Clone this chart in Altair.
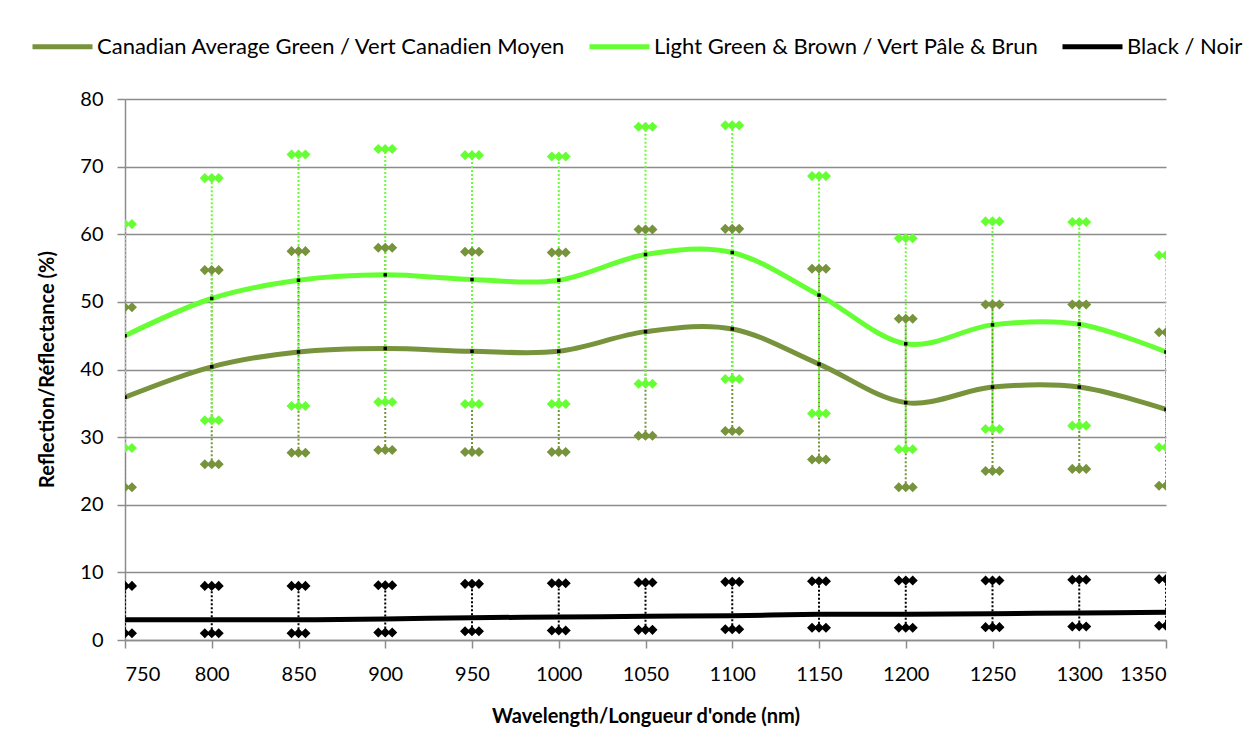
import altair as alt
import pandas as pd

wavelengths = [750, 800, 850, 900, 950, 1000, 1050, 1100, 1150, 1200, 1250, 1300, 1350]

series_names = [
    "Canadian Average Green / Vert Canadien Moyen",
    "Light Green & Brown / Vert Pâle & Brun",
    "Black / Noir",
]
series_colors = ["#77933C", "#66FF33", "#000000"]

ca_mean = [35.9, 40.4, 42.6, 43.1, 42.7, 42.7, 45.6, 46.0, 40.8, 35.1, 37.4, 37.4, 34.1]
ca_upper = [49.2, 54.7, 57.5, 58.0, 57.4, 57.3, 60.7, 60.8, 54.9, 47.5, 49.6, 49.6, 45.5]
ca_lower = [22.6, 26.0, 27.7, 28.1, 27.8, 27.8, 30.2, 30.9, 26.7, 22.6, 25.0, 25.3, 22.8]

lg_mean = [45.0, 50.5, 53.2, 54.0, 53.3, 53.2, 57.0, 57.3, 51.0, 43.8, 46.6, 46.7, 42.6]
lg_upper = [61.5, 68.3, 71.8, 72.6, 71.7, 71.5, 75.9, 76.1, 68.6, 59.4, 61.9, 61.8, 56.9]
lg_lower = [28.4, 32.5, 34.6, 35.2, 34.9, 34.9, 37.9, 38.6, 33.5, 28.2, 31.2, 31.7, 28.5]

bk_mean = [3.0, 3.0, 3.0, 3.1, 3.3, 3.4, 3.5, 3.6, 3.8, 3.8, 3.9, 4.0, 4.1]
bk_upper = [8.0, 8.0, 8.0, 8.1, 8.3, 8.4, 8.5, 8.6, 8.7, 8.8, 8.8, 8.9, 9.0]
bk_lower = [1.0, 1.0, 1.0, 1.1, 1.3, 1.4, 1.5, 1.6, 1.8, 1.8, 1.9, 2.0, 2.1]

y_ticks = [0, 10, 20, 30, 40, 50, 60, 70, 80]

rows = []
for name, means, lows, ups in zip(
    series_names,
    [ca_mean, lg_mean, bk_mean],
    [ca_lower, lg_lower, bk_lower],
    [ca_upper, lg_upper, bk_upper],
):
    for i, w in enumerate(wavelengths):
        rows.append({"series": name, "wl": w, "mean": means[i], "lower": lows[i], "upper": ups[i]})
df = pd.DataFrame(rows)

FONT = "Lato"
GRAY = "#8C8C8C"

x_enc = alt.X(
    "wl:Q",
    scale=alt.Scale(domain=[750, 1350], nice=False, zero=False),
    axis=alt.Axis(
        values=wavelengths,
        title="Wavelength/Longueur d'onde (nm)",
        grid=False,
        format="d",
        labelFont=FONT,
        labelFontSize=20,
        labelColor="#000000",
        labelPadding=16,
        tickSize=8,
        tickColor=GRAY,
        tickWidth=1.5,
        domainColor=GRAY,
        domainWidth=1.5,
        titleFont=FONT,
        titleFontSize=20,
        titleFontWeight="bold",
        titleColor="#000000",
        titleY=76,
        titleBaseline="middle",
    ),
)
y_scale = alt.Scale(domain=[0, 80], nice=False)
y_axis = alt.Axis(
    values=y_ticks,
    title="Reflection/Réflectance (%)",
    grid=True,
    gridColor=GRAY,
    gridWidth=1.5,
    labelFont=FONT,
    labelFontSize=20,
    labelColor="#000000",
    labelPadding=14,
    tickSize=8,
    tickColor=GRAY,
    tickWidth=1.5,
    domainColor=GRAY,
    domainWidth=1.5,
    titleFont=FONT,
    titleFontSize=20,
    titleFontWeight="bold",
    titleColor="#000000",
    titleX=-78,
    titleY=270,
    titleAngle=270,
    titleAlign="center",
    titleBaseline="middle",
)
color_scale = alt.Scale(domain=series_names, range=series_colors)

legend = alt.Legend(
    title=None,
    orient="none",
    direction="horizontal",
    legendX=-95,
    legendY=-85,
    symbolType="stroke",
    symbolSize=3600,
    symbolStrokeWidth=5,
    labelFont=FONT,
    labelFontSize=22,
    labelColor="#000000",
    labelOffset=2,
    labelLimit=700,
    columnPadding=13,
)
color_enc = alt.Color("series:N", scale=color_scale, sort=series_names, legend=legend)

base = alt.Chart(df)

rules = base.mark_rule(strokeDash=[2, 2], strokeWidth=2, clip=True).encode(
    x=x_enc,
    y=alt.Y("lower:Q", scale=y_scale, axis=y_axis),
    y2="upper:Q",
    color=color_enc,
)

cap_shape = (
    "M-1,0L-0.58,-0.42L-0.16,0L-0.58,0.42Z "
    "M-0.42,0L0,-0.42L0.42,0L0,0.42Z "
    "M0.16,0L0.58,-0.42L1,0L0.58,0.42Z"
)
caps = base.transform_fold(["lower", "upper"], as_=["bound", "val"]).mark_point(
    shape=cap_shape, size=576, filled=True, opacity=1, clip=True
).encode(
    x=x_enc,
    y=alt.Y("val:Q", scale=y_scale, axis=y_axis),
    color=color_enc,
)

lines = base.mark_line(interpolate="cardinal", strokeWidth=5, clip=True).encode(
    x=x_enc,
    y=alt.Y("mean:Q", scale=y_scale, axis=y_axis),
    color=color_enc,
)

markers = base.mark_point(shape="square", size=12, filled=True, color="#000000", opacity=1, clip=True).encode(
    x=x_enc,
    y=alt.Y("mean:Q", scale=y_scale, axis=y_axis),
)

chart = alt.layer(rules, caps, lines, markers).properties(
    width=1041,
    height=541,
    autosize=alt.AutoSizeParams(type="none"),
    padding={"left": 117, "top": 91, "right": 83, "bottom": 90},
    background="white",
).configure_view(stroke=None)

chart.save("out.html", embed_options={"renderer": "svg", "actions": False})
